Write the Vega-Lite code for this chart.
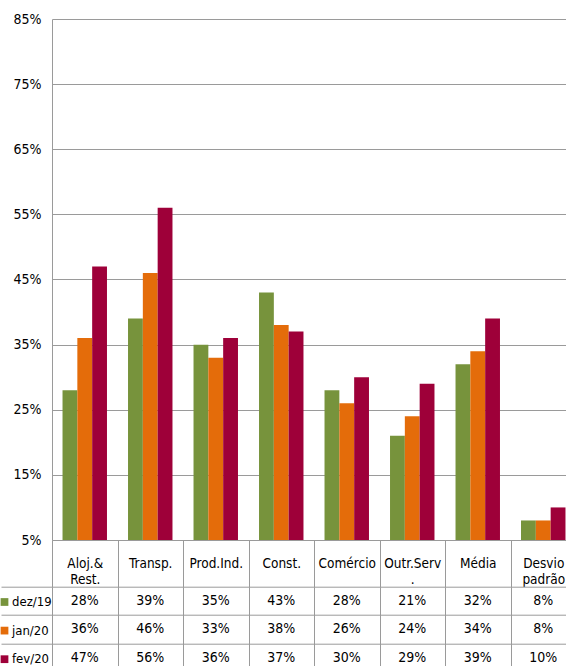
{
  "$schema": "https://vega.github.io/schema/vega-lite/v6.json",
  "padding": {"top": 12, "left": 0, "right": 0, "bottom": 0},
  "background": "white",
  "config": {
    "font": "DejaVu Sans Condensed, DejaVu Sans, sans-serif",
    "view": {"stroke": null},
    "axis": {"labelFont": "DejaVu Sans Condensed, DejaVu Sans, sans-serif", "labelColor": "#000000"},
    "legend": {"labelFont": "DejaVu Sans Condensed, DejaVu Sans, sans-serif", "labelColor": "#000000"},
    "text": {"font": "DejaVu Sans Condensed, DejaVu Sans, sans-serif"}
  },
  "data": {
    "values": [
      {"category": "Aloj.&\nRest.", "series": "dez/19", "value": 0.28},
      {"category": "Aloj.&\nRest.", "series": "jan/20", "value": 0.36},
      {"category": "Aloj.&\nRest.", "series": "fev/20", "value": 0.47},
      {"category": "Transp.", "series": "dez/19", "value": 0.39},
      {"category": "Transp.", "series": "jan/20", "value": 0.46},
      {"category": "Transp.", "series": "fev/20", "value": 0.56},
      {"category": "Prod.Ind.", "series": "dez/19", "value": 0.35},
      {"category": "Prod.Ind.", "series": "jan/20", "value": 0.33},
      {"category": "Prod.Ind.", "series": "fev/20", "value": 0.36},
      {"category": "Const.", "series": "dez/19", "value": 0.43},
      {"category": "Const.", "series": "jan/20", "value": 0.38},
      {"category": "Const.", "series": "fev/20", "value": 0.37},
      {"category": "Comércio", "series": "dez/19", "value": 0.28},
      {"category": "Comércio", "series": "jan/20", "value": 0.26},
      {"category": "Comércio", "series": "fev/20", "value": 0.30},
      {"category": "Outr.Serv\n.", "series": "dez/19", "value": 0.21},
      {"category": "Outr.Serv\n.", "series": "jan/20", "value": 0.24},
      {"category": "Outr.Serv\n.", "series": "fev/20", "value": 0.29},
      {"category": "Média", "series": "dez/19", "value": 0.32},
      {"category": "Média", "series": "jan/20", "value": 0.34},
      {"category": "Média", "series": "fev/20", "value": 0.39},
      {"category": "Desvio\npadrão", "series": "dez/19", "value": 0.08},
      {"category": "Desvio\npadrão", "series": "jan/20", "value": 0.08},
      {"category": "Desvio\npadrão", "series": "fev/20", "value": 0.10}
    ]
  },
  "bounds": "flush",
  "spacing": 46.7,
  "vconcat": [
    {
      "width": 524,
      "height": 521,
      "mark": {"type": "bar"},
      "encoding": {
        "x": {
          "field": "category",
          "type": "nominal",
          "sort": ["Aloj.&\nRest.", "Transp.", "Prod.Ind.", "Const.", "Comércio", "Outr.Serv\n.", "Média", "Desvio\npadrão"],
          "scale": {"paddingInner": 0, "paddingOuter": 0},
          "axis": {
            "title": null,
            "orient": "bottom",
            "labelAngle": 0,
            "labelExpr": "split(datum.label, '\\n')",
            "labelFontSize": 13.5,
            "labelBaseline": "middle",
            "labelPadding": -23,
            "labelLineHeight": 16,
            "labelOverlap": false,
            "labelFlush": false,
            "tickBand": "extent",
            "tickSize": 46.7,
            "tickColor": "#9a9a9a",
            "domainColor": "#9a9a9a",
            "grid": false
          }
        },
        "xOffset": {
          "field": "series",
          "type": "nominal",
          "sort": ["dez/19", "jan/20", "fev/20"],
          "scale": {"paddingInner": 0, "paddingOuter": 0.71}
        },
        "y": {
          "field": "value",
          "type": "quantitative",
          "scale": {"domain": [0.05, 0.85], "zero": false, "nice": false},
          "axis": {
            "title": null,
            "values": [0.05, 0.15, 0.25, 0.35, 0.45, 0.55, 0.65, 0.75, 0.85],
            "format": ".0%",
            "grid": true,
            "gridColor": "#9a9a9a",
            "ticks": false,
            "domainColor": "#9a9a9a",
            "labelFontSize": 14,
            "labelPadding": 11
          }
        },
        "y2": {"datum": 0.05},
        "color": {
          "field": "series",
          "type": "nominal",
          "sort": ["dez/19", "jan/20", "fev/20"],
          "scale": {"domain": ["dez/19", "jan/20", "fev/20"], "range": ["#77933C", "#E46C0A", "#9E0039"]},
          "legend": {
            "title": null,
            "orient": "none",
            "direction": "vertical",
            "legendX": -51,
            "legendY": 576.5,
            "padding": 0,
            "symbolType": "square",
            "symbolSize": 60,
            "symbolOffset": -3,
            "symbolStrokeWidth": 0,
            "labelFontSize": 13,
            "labelOffset": 1,
            "rowPadding": 14.6
          }
        }
      }
    },
    {
      "width": 524,
      "height": 85,
      "mark": {"type": "text", "fontSize": 14, "color": "#000000"},
      "encoding": {
        "x": {
          "field": "category",
          "type": "nominal",
          "sort": ["Aloj.&\nRest.", "Transp.", "Prod.Ind.", "Const.", "Comércio", "Outr.Serv\n.", "Média", "Desvio\npadrão"],
          "scale": {"paddingInner": 0, "paddingOuter": 0},
          "axis": {
            "title": null,
            "orient": "top",
            "labels": false,
            "ticks": false,
            "domain": false,
            "grid": true,
            "tickBand": "extent",
            "gridColor": "#9a9a9a"
          }
        },
        "y": {
          "field": "series",
          "type": "nominal",
          "sort": ["dez/19", "jan/20", "fev/20"],
          "scale": {"paddingInner": 0, "paddingOuter": 0},
          "axis": {
            "title": null,
            "labels": false,
            "domain": false,
            "ticks": true,
            "tickSize": 51,
            "tickBand": "extent",
            "tickColor": "#9a9a9a",
            "grid": true,
            "gridColor": "#9a9a9a"
          }
        },
        "text": {"field": "value", "type": "quantitative", "format": ".0%"}
      }
    }
  ]
}
